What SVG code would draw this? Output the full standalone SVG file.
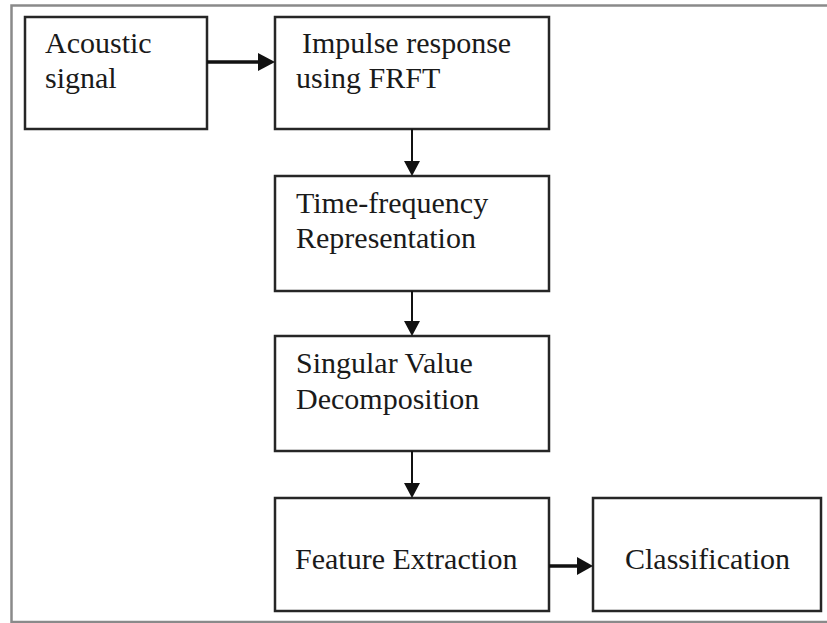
<svg xmlns="http://www.w3.org/2000/svg" width="827" height="623" viewBox="0 0 827 623">
<defs>
<style>
.box{fill:#fff;stroke:#262626;stroke-width:2.5}
.t{font-family:"Liberation Serif","Times New Roman",serif;font-size:30px;fill:#1a1a1a}
.c{stroke:#111;fill:none}
.h{fill:#111;stroke:none}
</style>
</defs>
<rect x="0" y="0" width="827" height="623" fill="#fff"/>
<path d="M827,5.5 H11.5 V622 H827" fill="none" stroke="#8a8a8a" stroke-width="2.5"/>
<g id="node-acoustic">
<rect class="box" x="25" y="17" width="182" height="112"/>
<text class="t" x="45" y="53">Acoustic</text>
<text class="t" x="45" y="88">signal</text>
</g>
<g id="node-impulse">
<rect class="box" x="275" y="17" width="274" height="112"/>
<text class="t" x="302" y="53">Impulse response</text>
<text class="t" x="296" y="88">using FRFT</text>
</g>
<g id="node-tf">
<rect class="box" x="275" y="176" width="274" height="115"/>
<text class="t" x="296" y="213">Time-frequency</text>
<text class="t" x="296" y="248">Representation</text>
</g>
<g id="node-svd">
<rect class="box" x="275" y="336" width="274" height="115"/>
<text class="t" x="296" y="373">Singular Value</text>
<text class="t" x="296" y="409">Decomposition</text>
</g>
<g id="node-feature">
<rect class="box" x="275" y="498" width="274" height="113"/>
<text class="t" x="295" y="569">Feature Extraction</text>
</g>
<g id="node-class">
<rect class="box" x="593" y="498" width="228" height="113"/>
<text class="t" x="625" y="569">Classification</text>
</g>
<g id="connectors">
<line class="c" x1="207" y1="62" x2="260" y2="62" stroke-width="3.5"/>
<polygon class="h" points="258,53 275,62 258,71"/>
<line class="c" x1="412" y1="129" x2="412" y2="162" stroke-width="2"/>
<polygon class="h" points="404,161 420,161 412,176"/>
<line class="c" x1="412" y1="291" x2="412" y2="322" stroke-width="2"/>
<polygon class="h" points="404,321 420,321 412,336"/>
<line class="c" x1="412" y1="451" x2="412" y2="484" stroke-width="2"/>
<polygon class="h" points="404,483 420,483 412,498"/>
<line class="c" x1="549" y1="566" x2="579" y2="566" stroke-width="3.5"/>
<polygon class="h" points="577,557 593,566 577,575"/>
</g>
</svg>
